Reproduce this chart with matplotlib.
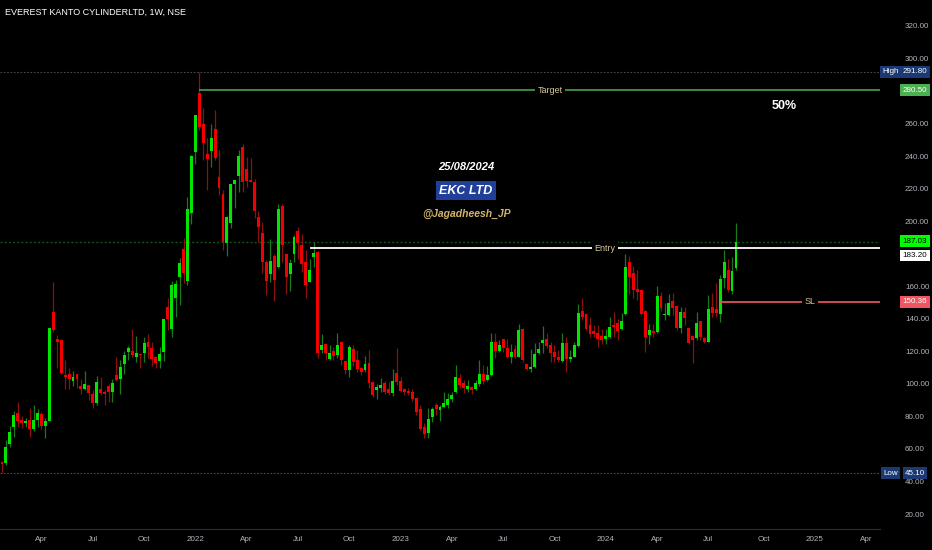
#!/usr/bin/env python
import matplotlib
matplotlib.use('Agg')
import matplotlib.pyplot as plt
from matplotlib.transforms import blended_transform_factory
import pandas as pd

plt.rcParams['font.family'] = ['Liberation Sans Narrow', 'Liberation Sans', 'DejaVu Sans']

# weekly candles, first bar = week of 2021-01-25
start_date = '2021-01-25'

opens = [52, 51.5, 63, 73.5, 82, 78, 76, 77.8, 72.2, 77.8, 81.3, 74, 77.3, 144.3, 127.4, 127, 105.4, 106, 102, 106,
         98.7, 96.8, 99, 93.8, 88, 96.6, 95, 98.9, 95, 105.4, 103, 112, 119.7, 120.2, 116.7, 118.5, 119, 126, 122, 116.3,
         114.2, 119.4, 147, 133.5, 153, 165.9, 182.7, 163.5, 204.8, 242.7, 278.6, 259.7, 241, 243, 256.6, 227, 216.5, 186.8, 199, 222.8,
         227.7, 245.4, 232, 225, 224.2, 202.7, 193, 175, 167.3, 178.6, 172, 209.6, 179.7, 167.3, 179.6, 194, 185.3, 175, 162.8, 178,
         181.2, 120.8, 124.3, 115, 120.4, 117.8, 126, 114, 108.5, 121.2, 114.6, 109.6, 108.5, 113, 101, 96.2, 97.3, 100.3, 96.8, 94.2,
         106.5, 101.7, 96.6, 95.6, 95.2, 91.5, 84.3, 73.6, 69.6, 79.8, 87, 83.9, 86, 87, 90.7, 95, 103.8, 100.7, 96.8, 98.2,
         96.6, 100, 106, 102.3, 105.4, 126, 120.2, 127.4, 121.9, 116.3, 121.2, 116.7, 134, 112.2, 109, 110.5, 118.8, 124.9, 127.3, 123.9,
         119.4, 116.7, 114.2, 125, 115, 116.7, 123.3, 144.8, 142.9, 136.2, 132.3, 131.3, 129.4, 127.4, 128.6, 136.2, 137.2, 133.5, 142.9, 175,
         167.9, 158.1, 157.7, 145, 130, 132.7, 131.6, 154.2, 142.3, 142.3, 151, 148, 134.1, 144.3, 134.1, 129.6, 128.4, 138.6, 128.4, 126,
         147.4, 145.8, 142.7, 164.8, 170, 157, 171]
highs = [52.5, 65.5, 74, 83.5, 89, 80, 79, 85, 87, 84.5, 83, 79, 134.1, 162.8, 130, 127.5, 114.6, 110, 108, 106.3,
         103, 108, 99.5, 96.2, 105, 104, 96, 100, 103, 116.3, 114.6, 120, 123.4, 134, 129.6, 118.6, 128.6, 130.4, 126, 117,
         122.8, 140, 152.6, 163, 163.8, 177.2, 189.5, 215, 240.5, 265.5, 291.8, 269.4, 251, 259.5, 268, 244, 219, 203, 223, 225.5,
         244, 247.4, 239.6, 239, 225.7, 206, 199.7, 176, 188.8, 180, 210.6, 210.6, 180.5, 176.7, 191.4, 196.4, 192, 182.4, 177, 187.4,
         181.5, 130.4, 124.5, 123.6, 122.8, 131, 126.2, 114.2, 124, 123.6, 120.5, 110.5, 117, 120.5, 101.2, 100, 103.4, 101.5, 101, 109.3,
         122.2, 104, 97.7, 97.7, 96.6, 91.6, 87, 76, 85, 86, 88.5, 87, 95, 94.5, 95, 111.6, 106, 102.5, 102.5, 98.7,
         102.6, 114.6, 111.6, 111, 131, 131, 127, 127.6, 127.4, 124.3, 123.6, 137, 134.2, 112.4, 121.2, 124.9, 125.9, 135.8, 131.3, 125.9,
         124, 121, 131, 128.6, 120.5, 125.9, 149.2, 152.6, 143, 141, 136, 136, 134, 134, 140.9, 144.2, 140, 143.8, 180, 178.6,
         172.3, 170, 158, 145.2, 137, 137, 160, 156.5, 149.8, 155, 155.7, 148.2, 147, 147, 134.3, 130, 144, 138.8, 129, 154.3,
         156, 162, 166.7, 182.3, 177, 177.9, 198.7]
lows = [45.1, 50, 61, 67.5, 73.6, 73, 73.5, 67.5, 71, 73.6, 72, 67, 77, 132, 110, 106, 96.8, 97, 98.7, 97.6,
        94, 96.2, 90, 85.3, 87, 93, 87, 89, 88.6, 102, 94, 106, 114.6, 116.3, 113.6, 110, 113.6, 115.7, 111, 110,
        110, 114, 133, 128.5, 141, 148.5, 162, 160.7, 198, 235.2, 256, 237.6, 219, 233, 237.6, 216, 182, 178.6, 196, 208,
        218, 218, 220.8, 224, 201.7, 187.4, 168, 154.5, 162.8, 150.7, 171, 175, 155.5, 157, 175, 177, 168.5, 152.6, 162.4, 172,
        115.7, 119, 114.4, 114.4, 114.4, 115.7, 111.4, 106, 104, 111, 107, 105.7, 107.5, 97.5, 92, 90.7, 95, 93.6, 93, 92.3,
        99.3, 95, 93.3, 93, 89.3, 81, 71.6, 67, 66.5, 76.5, 81, 77, 85.7, 85, 89, 94.2, 97.4, 94.5, 94.8, 94,
        96, 98.6, 99.7, 101.7, 105, 115.7, 119.5, 119.5, 116, 113, 116, 116.3, 113.4, 108.3, 107.2, 109.7, 118.2, 118.8, 121.9, 113.6,
        113.6, 113.6, 113.6, 107, 113.6, 116.3, 122.6, 139.5, 133, 128.5, 128.5, 122.4, 124.6, 124.3, 128, 128.6, 126.9, 133, 142.5, 155,
        153, 151.4, 142.5, 119.5, 124.6, 128.5, 131, 145, 139.3, 141.5, 142.3, 133, 131, 136, 124.5, 112.6, 127, 127, 125, 125.8,
        141, 141, 137.8, 159, 156.5, 155, 170]
closes = [51, 61, 70.5, 81, 77, 75.7, 77, 72.2, 77.8, 82, 74.3, 77, 134.1, 133, 125.5, 106.5, 104.4, 103, 104, 103,
          96.8, 99.7, 94.2, 88.4, 101, 94.2, 94, 95.2, 100.3, 102.3, 110.5, 117.7, 122.2, 118, 118.7, 117.8, 125.3, 122.8, 115.3, 112.6,
          118.3, 139.8, 139.7, 161, 161.4, 174.5, 168.3, 207.3, 240, 265.2, 258, 247.8, 238, 250.8, 238.6, 220.5, 187.4, 202.4, 222.8, 225.3,
          240, 224.2, 224.8, 224.2, 206.4, 196.6, 175, 163.4, 175.5, 163.8, 207.4, 185.3, 165.4, 174, 190, 186.4, 173.7, 160.7, 170, 180.2,
          118.7, 123.9, 118.8, 119.1, 117, 123.9, 114.6, 108.5, 122.8, 113.6, 109, 107.5, 112, 100.4, 93, 98.2, 99.3, 95.2, 94.2, 102,
          101.3, 95.8, 94.8, 94.2, 90.7, 82.9, 72.2, 69.2, 78.4, 84.3, 84.3, 86, 88.4, 90.7, 93, 104, 99.3, 97.3, 98.7, 96.2,
          100.3, 106, 101.7, 105.4, 126, 120.4, 123.9, 121.9, 116.7, 119.7, 116.3, 133.1, 114.6, 109, 110.5, 118.3, 121.2, 126.9, 123.3, 118.8,
          116.7, 114.6, 125, 115, 116.7, 123.9, 143.4, 140.9, 133.5, 130.6, 130.6, 127.4, 126.9, 129.4, 134.7, 135, 132.7, 138.6, 171.6, 165.9,
          157.7, 156.6, 142.9, 129, 133, 131.5, 154, 146.4, 143, 149.7, 146.4, 134.1, 144.3, 140.3, 125.3, 127, 137.2, 129, 126, 146,
          143.4, 143.4, 164.4, 174.9, 157.7, 169.4, 187.03]

# horizontal levels
high_price = 291.80
low_price = 45.10
target_price = 280.50
entry_price = 183.20
sl_price = 150.36
last_price = 187.03
target_from = 50   # bar where the target line starts
entry_from = 78
sl_from = 182

# 180 and 280 sit under the price tags in the reference
price_ticks = [20, 40, 60, 80, 100, 120, 140, 160, 200, 220, 240, 260, 300, 320]
month_labels = ['Apr', 'Jul', 'Oct', '2022', 'Apr', 'Jul', 'Oct', '2023', 'Apr', 'Jul', 'Oct',
                '2024', 'Apr', 'Jul', 'Oct', '2025', 'Apr']
month_starts = ['2021-04', '2021-07', '2021-10', '2022-01', '2022-04', '2022-07', '2022-10', '2023-01',
                '2023-04', '2023-07', '2023-10', '2024-01', '2024-04', '2024-07', '2024-10', '2025-01', '2025-04']

bg = '#000000'
up_body, up_wick = '#00e600', '#187a18'
dn_body, dn_wick = '#f20000', '#8c1010'
grey = '#b2b5be'
tan = '#d6c49a'

fig = plt.figure(figsize=(9.32, 5.5), dpi=100, facecolor=bg)
ax = fig.add_axes([0, 21 / 550, 880 / 932, 529 / 550], facecolor=bg)

idx = list(range(len(closes)))
bodies_lo = [min(o, c) for o, c in zip(opens, closes)]
bodies_h = [max(abs(c - o), 0.6) for o, c in zip(opens, closes)]
body_col = [up_body if c >= o else dn_body for o, c in zip(opens, closes)]
wick_col = [up_wick if c >= o else dn_wick for o, c in zip(opens, closes)]

ax.vlines(idx, lows, highs, colors=wick_col, linewidth=0.9, zorder=2)
ax.bar(idx, bodies_h, bottom=bodies_lo, width=0.74, color=body_col, linewidth=0, zorder=3)

ax.set_xlim(-0.507, 222.5)
ax.set_ylim(10.8, 335.9)

# level lines
ax.axhline(high_price, color='#4a4a4a', linestyle=(0, (1.5, 1.5)), linewidth=0.8, zorder=1)
ax.axhline(low_price, color='#4a4a4a', linestyle=(0, (1.5, 1.5)), linewidth=0.8, zorder=1)
ax.axhline(last_price, color='#145214', linestyle=(0, (1.5, 1.5)), linewidth=1.0, zorder=1)
ax.hlines(target_price, target_from, 222.5, color='#4caf50', linewidth=1.1, zorder=4)
ax.hlines(entry_price, entry_from, 222.5, color='#ffffff', linewidth=1.3, zorder=4)
ax.hlines(sl_price, sl_from, 222.5, color='#e0505e', linewidth=1.3, zorder=4)

box = dict(boxstyle='square,pad=0.25', facecolor=bg, edgecolor='none')
ax.text(138.9, target_price, 'Target', color=tan, fontsize=6.5, ha='center', va='center', bbox=box, zorder=5)
ax.text(152.8, entry_price, 'Entry', color=tan, fontsize=6.5, ha='center', va='center', bbox=box, zorder=5)
ax.text(204.8, sl_price, 'SL', color=tan, fontsize=6.5, ha='center', va='center', bbox=box, zorder=5)

# drawings
ax.text(117.6, 233.3, '25/08/2024', color='white', fontsize=8, fontweight='bold', style='italic',
        ha='center', va='center', zorder=5)
ax.text(117.6, 218.7, 'EKC LTD', color='white', fontsize=9, fontweight='bold', style='italic',
        ha='center', va='center', zorder=5,
        bbox=dict(boxstyle='square,pad=0.3', facecolor='#1f3f98', edgecolor='none'))
ax.text(117.6, 204.4, '@Jagadheesh_JP', color='#d4b46e', fontsize=7.5, fontweight='bold', style='italic',
        ha='center', va='center', zorder=5)
ax.text(198.2, 270.8, '50%', color='white', fontsize=9, fontweight='bold', ha='center', va='center', zorder=5)

# axes styling
for side in ['top', 'left', 'right']:
    ax.spines[side].set_visible(False)
ax.spines['bottom'].set_color('#2a2e39')
ax.yaxis.tick_right()
ax.set_yticks(price_ticks)
ax.set_yticklabels(['%.2f' % p for p in price_ticks])
ax.tick_params(axis='y', length=0, pad=18, labelsize=5.8, labelcolor=grey)

start = pd.Timestamp(start_date)
tick_pos = []
for m in month_starts:
    d = pd.Timestamp(m + '-01')
    while d.weekday() != 0:
        d += pd.Timedelta(days=1)
    tick_pos.append((d - start).days / 7)
ax.set_xticks(tick_pos)
ax.set_xticklabels(month_labels)
ax.tick_params(axis='x', length=0, pad=5, labelsize=5.8, labelcolor=grey)

# price scale tags
tr = blended_transform_factory(ax.transAxes, ax.transData)


def tag(price, txt, fc, tc, dx, dy=0):
    ax.annotate(txt, xy=(1, price), xycoords=tr, xytext=(dx, dy), textcoords='offset pixels',
                ha='center', va='center', fontsize=5.8, color=tc, annotation_clip=False, zorder=10,
                bbox=dict(boxstyle='square,pad=0.3', facecolor=fc, edgecolor='none'))


tag(high_price, 'High', '#1b3a73', 'white', 10.5)
tag(high_price, '%.2f' % high_price, '#1b3a73', 'white', 35)
tag(target_price, '%.2f' % target_price, '#4caf50', 'white', 35)
tag(last_price, '%.2f' % last_price, '#00ff00', 'black', 35, 1)
tag(entry_price, '%.2f' % entry_price, '#ffffff', 'black', 35, -7)
tag(sl_price, '%.2f' % sl_price, '#f05562', 'white', 35)
tag(low_price, 'Low', '#1b3a73', 'white', 10.5)
tag(low_price, '%.2f' % low_price, '#1b3a73', 'white', 35)

fig.text(5 / 932, 1 - 12 / 550, 'EVEREST KANTO CYLINDERLTD, 1W, NSE', color='white', fontsize=6.5,
         ha='left', va='center')

fig.savefig('out.png', dpi=100, facecolor=bg)
